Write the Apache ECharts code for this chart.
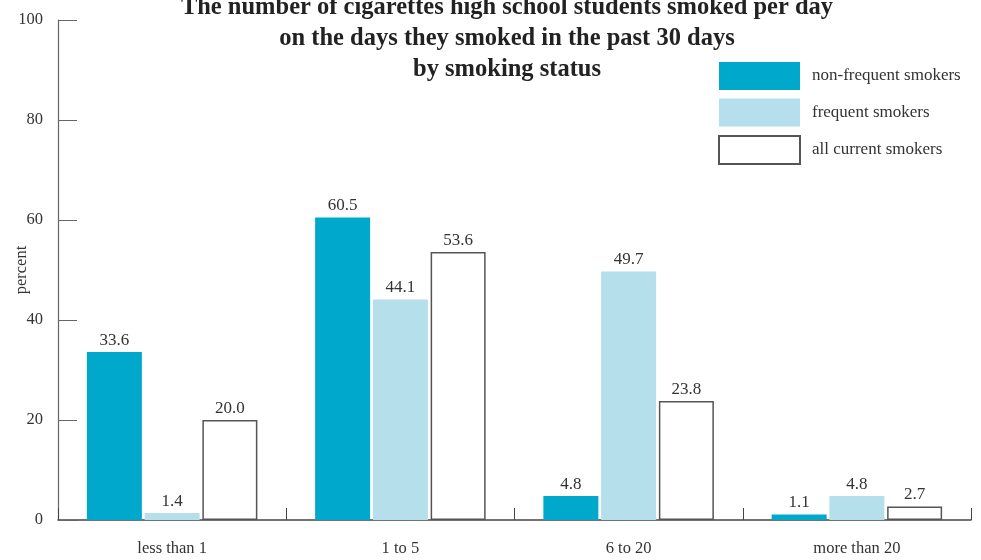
<!DOCTYPE html>
<html>
<head>
<meta charset="utf-8">
<script src="https://cdn.jsdelivr.net/npm/echarts@6/dist/echarts.min.js"></script>
<style>
  html, body { margin: 0; padding: 0; background: #fff; }
  #chart { width: 981px; height: 560px; }
</style>
</head>
<body>
<div id="chart"></div>
<script>
// Cigarettes smoked per day, by smoking status (percent)
const categories = ['less than 1', '1 to 5', '6 to 20', 'more than 20'];
const nonFrequent = [33.6, 60.5, 4.8, 1.1];
const frequent = [1.4, 44.1, 49.7, 4.8];
const allCurrent = [20.0, 53.6, 23.8, 2.7];
const seriesNames = ['non-frequent smokers', 'frequent smokers', 'all current smokers'];
const yTicks = [0, 20, 40, 60, 80, 100];

const FONT = '"Liberation Serif", "DejaVu Serif", serif';
const TEXT = '#333';

const labelStyle = {
  show: true,
  position: 'top',
  distance: 3,
  fontFamily: FONT,
  fontSize: 17,
  color: TEXT,
  formatter: p => p.value.toFixed(1)
};

const chart = echarts.init(document.getElementById('chart'), null, { renderer: 'canvas' });
chart.setOption({
  animation: false,
  backgroundColor: '#fff',
  title: {
    text: 'The number of cigarettes high school students smoked per day\non the days they smoked in the past 30 days\nby smoking status',
    left: 507,
    top: -8,
    padding: 0,
    textAlign: 'center',
    textStyle: {
      fontFamily: FONT,
      fontWeight: 'bold',
      fontSize: 24.5,
      lineHeight: 31,
      color: '#222'
    }
  },
  legend: {
    orient: 'vertical',
    left: 718,
    top: 62,
    padding: 0,
    itemWidth: 81,
    itemHeight: 28,
    itemGap: 8.5,
    icon: 'rect',
    textStyle: { fontFamily: FONT, fontSize: 17, color: TEXT, padding: [0, 0, 0, 7] },
    data: seriesNames
  },
  grid: { left: 58, right: 10, top: 20, bottom: 40, containLabel: false, outerBoundsMode: 'none' },
  xAxis: {
    type: 'category',
    data: categories,
    axisLine: { lineStyle: { color: '#444', width: 1.5 } },
    axisTick: { show: true, inside: true, length: 12, lineStyle: { color: '#444' } },
    axisLabel: { fontFamily: FONT, fontSize: 16.5, color: TEXT, margin: 20 }
  },
  yAxis: {
    type: 'value',
    min: yTicks[0],
    max: yTicks[yTicks.length - 1],
    interval: 20,
    name: 'percent',
    nameLocation: 'middle',
    nameGap: 28,
    nameRotate: 90,
    nameMoveOverlap: false,
    nameTextStyle: { fontFamily: FONT, fontSize: 16.5, color: TEXT },
    axisLine: { show: true, lineStyle: { color: '#666', width: 1.2 } },
    axisTick: { show: true, inside: true, length: 19, lineStyle: { color: '#666' } },
    axisLabel: { fontFamily: FONT, fontSize: 16.5, color: TEXT, margin: 15 },
    splitLine: { show: false }
  },
  series: [
    {
      name: seriesNames[0],
      type: 'bar',
      data: nonFrequent,
      barWidth: 55,
      barGap: '5%',
      itemStyle: { color: '#00A9CC' },
      label: labelStyle
    },
    {
      name: seriesNames[1],
      type: 'bar',
      data: frequent,
      barWidth: 55,
      barGap: '5%',
      itemStyle: { color: '#B4DFEB' },
      label: labelStyle
    },
    {
      name: seriesNames[2],
      type: 'bar',
      data: allCurrent,
      barWidth: 55,
      barGap: '5%',
      itemStyle: { color: '#fff', borderColor: '#555', borderWidth: 1.5 },
      label: labelStyle
    }
  ]
});
</script>
</body>
</html>
